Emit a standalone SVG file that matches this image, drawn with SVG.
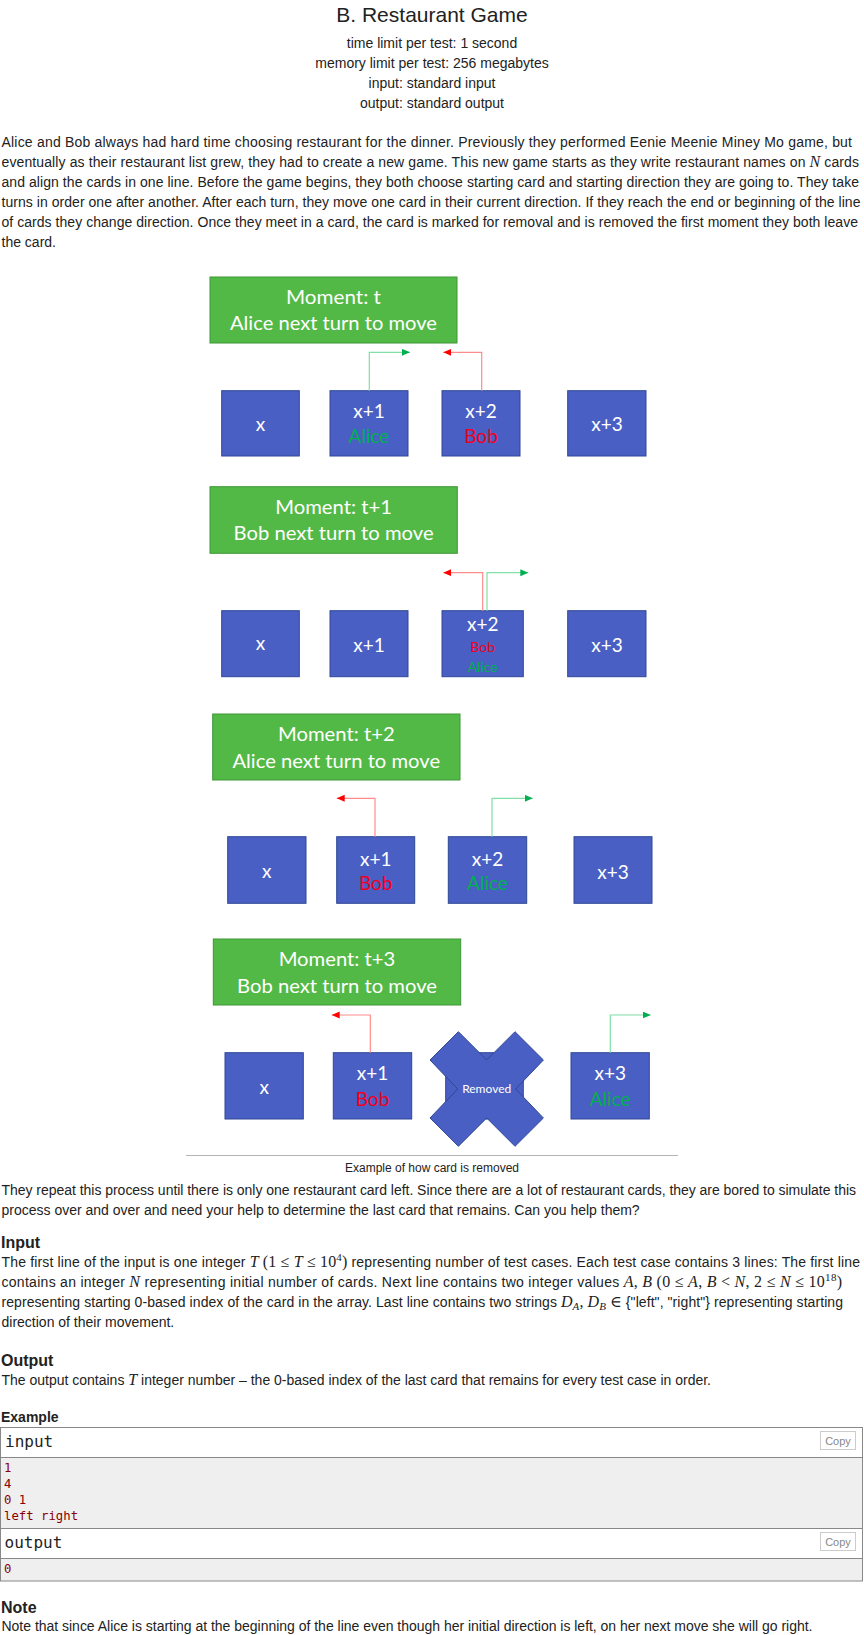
<svg xmlns="http://www.w3.org/2000/svg" width="864" height="1635" viewBox="0 0 864 1635">
<style>
.t{font-family:"Liberation Sans",Arial,sans-serif;font-size:14px;fill:#222}
.c{text-anchor:middle}
.h{font-weight:bold;font-size:16px}
.ttl{font-size:21px}
.cap{font-size:12px}
.m{font-family:"Liberation Serif","DejaVu Serif",serif;font-style:italic;font-size:16px}
.mr{font-family:"Liberation Serif","DejaVu Serif",serif;font-style:normal;font-size:16px}
.sup{font-size:11px}
.card{fill:#4a5fc4;stroke:#2f4795;stroke-width:1}
.mom{fill:#53b946;stroke:#3f9636;stroke-width:1}
.dl{font-family:Lato,"Open Sans",sans-serif;fill:#fff;text-anchor:middle;font-size:19px}
.sm{font-size:14px}
.rm{font-size:12px}
.al{fill:#00b050}
.bo{fill:#f00020}
.gl{fill:none;stroke:#80e0a8;stroke-width:1.2}
.rl{fill:none;stroke:#ff8c8c;stroke-width:1.2}
.mono{font-family:"DejaVu Sans Mono","Liberation Mono",monospace;font-size:16px;fill:#222}
.dat{font-family:"DejaVu Sans Mono","Liberation Mono",monospace;font-size:12.3px;fill:#8b0000}
.box{fill:none;stroke:#888;stroke-width:1}
.cp{fill:#fff;stroke:#ccc;stroke-width:1}
.cpt{font-family:"Liberation Sans",Arial,sans-serif;font-size:11px;fill:#888;text-anchor:middle}
</style>
<defs>
<marker id="ag" markerUnits="userSpaceOnUse" markerWidth="9" markerHeight="8" refX="8" refY="3.5" orient="auto"><path d="M0,0 L8,3.5 L0,7 z" fill="#00b050"/></marker>
<marker id="ar" markerUnits="userSpaceOnUse" markerWidth="9" markerHeight="8" refX="8" refY="3.5" orient="auto"><path d="M0,0 L8,3.5 L0,7 z" fill="#ff0000"/></marker>
</defs>
<rect width="864" height="1635" fill="#fff"/>

<g id="header">
<text class="t c ttl" x="432" y="22">B. Restaurant Game</text>
<text class="t c" x="432" y="48.3">time limit per test: 1 second</text>
<text class="t c" x="432" y="68.3">memory limit per test: 256 megabytes</text>
<text class="t c" x="432" y="88.3">input: standard input</text>
<text class="t c" x="432" y="108.3">output: standard output</text>
</g>

<g id="legend">
<text class="t" x="1.5" y="146.7" textLength="850.5" lengthAdjust="spacing">Alice and Bob always had hard time choosing restaurant for the dinner. Previously they performed Eenie Meenie Miney Mo game, but</text>
<text class="t" x="1.5" y="166.7" textLength="857.5" lengthAdjust="spacing">eventually as their restaurant list grew, they had to create a new game. This new game starts as they write restaurant names on <tspan class="m">N</tspan> cards</text>
<text class="t" x="1.5" y="186.7" textLength="857.5" lengthAdjust="spacing">and align the cards in one line. Before the game begins, they both choose starting card and starting direction they are going to. They take</text>
<text class="t" x="1.5" y="206.7" textLength="859" lengthAdjust="spacing">turns in order one after another. After each turn, they move one card in their current direction. If they reach the end or beginning of the line</text>
<text class="t" x="1.5" y="226.7" textLength="856.5" lengthAdjust="spacing">of cards they change direction. Once they meet in a card, the card is marked for removal and is removed the first moment they both leave</text>
<text class="t" x="1.5" y="246.7">the card.</text>
</g>

<g id="moment-t">
<rect class="mom" x="210" y="277" width="247" height="66"/>
<text class="dl" x="333.5" y="304" textLength="95" lengthAdjust="spacingAndGlyphs">Moment: t</text>
<text class="dl" x="333.5" y="330" textLength="207" lengthAdjust="spacingAndGlyphs">Alice next turn to move</text>
</g>
<g id="row1">
<rect class="card" x="221.7" y="390.7" width="77.6" height="65.3"/>
<text class="dl" x="260.5" y="430.7">x</text>
<rect class="card" x="330" y="390.7" width="78" height="65.3"/>
<text class="dl" x="369" y="418.3">x+1</text>
<text class="dl al" x="369" y="443.3">Alice</text>
<rect class="card" x="442" y="390.7" width="78" height="65.3"/>
<text class="dl" x="481" y="418.3">x+2</text>
<text class="dl bo" x="481" y="443.3">Bob</text>
<rect class="card" x="567.7" y="390.7" width="78.3" height="65.3"/>
<text class="dl" x="607" y="431">x+3</text>
</g>

<g id="moment-t1">
<rect class="mom" x="210" y="486.7" width="247.3" height="66.6"/>
<text class="dl" x="333.6" y="514" textLength="116.7" lengthAdjust="spacingAndGlyphs">Moment: t+1</text>
<text class="dl" x="333.6" y="540" textLength="200" lengthAdjust="spacingAndGlyphs">Bob next turn to move</text>
</g>
<g id="row2">
<rect class="card" x="221.7" y="610.7" width="77.6" height="66"/>
<text class="dl" x="260.5" y="650.3">x</text>
<rect class="card" x="330" y="610.7" width="78" height="66"/>
<text class="dl" x="369" y="651.5">x+1</text>
<rect class="card" x="442" y="610.7" width="81.3" height="66"/>
<text class="dl" x="482.7" y="630.5">x+2</text>
<text class="dl bo sm" x="482.7" y="651.5">Bob</text>
<text class="dl al sm" x="482.7" y="672">Alice</text>
<rect class="card" x="567.7" y="610.7" width="78.3" height="66"/>
<text class="dl" x="607" y="651.5">x+3</text>
</g>

<g id="moment-t2">
<rect class="mom" x="212.7" y="714" width="247.3" height="66"/>
<text class="dl" x="336.3" y="741" textLength="116.7" lengthAdjust="spacingAndGlyphs">Moment: t+2</text>
<text class="dl" x="336.3" y="767.5" textLength="207.7" lengthAdjust="spacingAndGlyphs">Alice next turn to move</text>
</g>
<g id="row3">
<rect class="card" x="227.7" y="836.7" width="78.3" height="66.6"/>
<text class="dl" x="266.8" y="877.5">x</text>
<rect class="card" x="336.7" y="836.7" width="78" height="66.6"/>
<text class="dl" x="375.7" y="865.5">x+1</text>
<text class="dl bo" x="375.7" y="890">Bob</text>
<rect class="card" x="448.3" y="836.7" width="78.4" height="66.6"/>
<text class="dl" x="487.5" y="865.5">x+2</text>
<text class="dl al" x="487.5" y="890">Alice</text>
<rect class="card" x="574" y="836.7" width="78" height="66.6"/>
<text class="dl" x="613" y="879">x+3</text>
</g>

<g id="moment-t3">
<rect class="mom" x="213.3" y="939" width="247.4" height="66"/>
<text class="dl" x="337" y="966" textLength="116.7" lengthAdjust="spacingAndGlyphs">Moment: t+3</text>
<text class="dl" x="337" y="992.5" textLength="200" lengthAdjust="spacingAndGlyphs">Bob next turn to move</text>
</g>
<g id="row4">
<rect class="card" x="225" y="1052.7" width="78.3" height="66.3"/>
<text class="dl" x="264.2" y="1093.5">x</text>
<rect class="card" x="333.3" y="1052.7" width="78.4" height="66.3"/>
<text class="dl" x="372.5" y="1080">x+1</text>
<text class="dl bo" x="372.5" y="1106">Bob</text>
<rect class="card" x="445.7" y="1052.7" width="77.6" height="66.3"/>
<polygon class="card" points="458.4,1031.7 486.7,1060 515,1031.7 543.4,1060 515.7,1089 543.4,1118 515,1146.3 486.7,1118 458.4,1146.3 430,1118 457.7,1089 430,1060"/>
<text class="dl rm" x="486.7" y="1093">Removed</text>
<rect class="card" x="571" y="1052.7" width="78.3" height="66.3"/>
<text class="dl" x="610.2" y="1080">x+3</text>
<text class="dl al" x="610.2" y="1106">Alice</text>
</g>

<g id="connectors">
<path class="gl" d="M369.3,390.7 V352.3 H410" marker-end="url(#ag)"/>
<path class="rl" d="M481.7,390.7 V352.3 H443.3" marker-end="url(#ar)"/>
<path class="rl" d="M482.7,610.7 V572.7 H443.3" marker-end="url(#ar)"/>
<path class="gl" d="M487,610.7 V572.7 H528.3" marker-end="url(#ag)"/>
<path class="rl" d="M375,836.7 V798.3 H336.7" marker-end="url(#ar)"/>
<path class="gl" d="M492,836.7 V798.3 H532.7" marker-end="url(#ag)"/>
<path class="rl" d="M370.3,1052.7 V1015 H331.7" marker-end="url(#ar)"/>
<path class="gl" d="M610.3,1052.7 V1015 H650.7" marker-end="url(#ag)"/>
</g>

<g id="caption">
<line x1="186" y1="1155.5" x2="678" y2="1155.5" stroke="#b4b4b4" stroke-width="1"/>
<text class="t c cap" x="432" y="1172">Example of how card is removed</text>
</g>

<g id="body">
<text class="t" x="1.5" y="1195" textLength="854.5" lengthAdjust="spacing">They repeat this process until there is only one restaurant card left. Since there are a lot of restaurant cards, they are bored to simulate this</text>
<text class="t" x="1.5" y="1215">process over and over and need your help to determine the last card that remains. Can you help them?</text>
<text class="t h" x="1" y="1248.3">Input</text>
<text class="t" x="1.5" y="1266.7" textLength="858.5" lengthAdjust="spacing">The first line of the input is one integer <tspan class="m">T</tspan> <tspan class="mr">(1 ≤ </tspan><tspan class="m">T</tspan><tspan class="mr"> ≤ 10</tspan><tspan class="mr sup" dy="-6">4</tspan><tspan class="mr" dy="6">)</tspan> representing number of test cases. Each test case contains 3 lines: The first line</text>
<text class="t" x="1.5" y="1286.7" textLength="840.5" lengthAdjust="spacing">contains an integer <tspan class="m">N</tspan> representing initial number of cards. Next line contains two integer values <tspan class="m">A</tspan><tspan class="mr">, </tspan><tspan class="m">B</tspan><tspan class="mr"> (0 ≤ </tspan><tspan class="m">A</tspan><tspan class="mr">, </tspan><tspan class="m">B</tspan><tspan class="mr"> &lt; </tspan><tspan class="m">N</tspan><tspan class="mr">, 2 ≤ </tspan><tspan class="m">N</tspan><tspan class="mr"> ≤ 10</tspan><tspan class="mr sup" dy="-6">18</tspan><tspan class="mr" dy="6">)</tspan></text>
<text class="t" x="1.5" y="1306.7" textLength="841.5" lengthAdjust="spacing">representing starting 0-based index of the card in the array. Last line contains two strings <tspan class="m">D</tspan><tspan class="m sup" dy="3">A</tspan><tspan class="mr" dy="-3">, </tspan><tspan class="m">D</tspan><tspan class="m sup" dy="3">B</tspan><tspan class="mr" dy="-3"> ∈</tspan> {"left", "right"} representing starting</text>
<text class="t" x="1.5" y="1326.7">direction of their movement.</text>
<text class="t h" x="1" y="1366">Output</text>
<text class="t" x="1.5" y="1385" textLength="709.5" lengthAdjust="spacing">The output contains <tspan class="m">T</tspan> integer number – the 0-based index of the last card that remains for every test case in order.</text>
</g>

<g id="example">
<text class="t" x="1" y="1421.7" font-weight="bold">Example</text>
<rect x="1" y="1457.5" width="861" height="71" fill="#efefef"/>
<rect x="1" y="1558.5" width="861" height="22.5" fill="#efefef"/>
<rect class="box" x="0.5" y="1427.5" width="862" height="153.5"/>
<line class="box" x1="0.5" y1="1457.5" x2="862.5" y2="1457.5"/>
<line class="box" x1="0.5" y1="1528.5" x2="862.5" y2="1528.5"/>
<line class="box" x1="0.5" y1="1558.5" x2="862.5" y2="1558.5"/>
<text class="mono" x="5" y="1447">input</text>
<rect class="cp" x="820.5" y="1431.5" width="35" height="18"/>
<text class="cpt" x="838" y="1444.5">Copy</text>
<text class="dat" x="4" y="1472.3">1</text>
<text class="dat" x="4" y="1488.2">4</text>
<text class="dat" x="4" y="1504">0 1</text>
<text class="dat" x="4" y="1519.6">left right</text>
<text class="mono" x="4.5" y="1547.5">output</text>
<rect class="cp" x="820.5" y="1532.5" width="35" height="18"/>
<text class="cpt" x="838" y="1545.5">Copy</text>
<text class="dat" x="4" y="1573">0</text>
</g>

<g id="note">
<text class="t h" x="1" y="1612.5">Note</text>
<text class="t" x="1.5" y="1630.5" textLength="811" lengthAdjust="spacing">Note that since Alice is starting at the beginning of the line even though her initial direction is left, on her next move she will go right.</text>
</g>
</svg>
